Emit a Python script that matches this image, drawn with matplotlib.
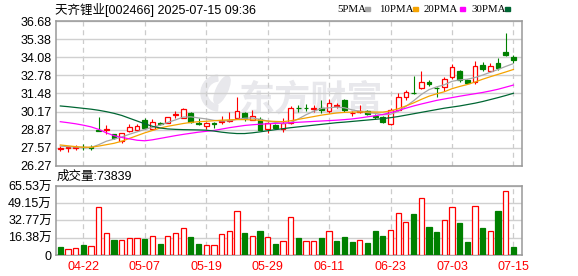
import matplotlib
matplotlib.use('Agg')
import matplotlib.pyplot as plt
from matplotlib.patches import Rectangle, Wedge, Ellipse
from matplotlib.transforms import IdentityTransform
import numpy as np

plt.rcParams['font.family'] = ['Liberation Sans', 'Noto Sans CJK SC', 'DejaVu Sans']

dates = ['04-17', '04-18', '04-21', '04-22', '04-23', '04-24', '04-25', '04-28', '04-29', '04-30',
         '05-06', '05-07', '05-08', '05-09', '05-12', '05-13', '05-14', '05-15', '05-16', '05-19',
         '05-20', '05-21', '05-22', '05-23', '05-26', '05-27', '05-28', '05-29', '05-30', '06-03',
         '06-04', '06-05', '06-06', '06-09', '06-10', '06-11', '06-12', '06-13', '06-16', '06-17',
         '06-18', '06-19', '06-20', '06-23', '06-24', '06-25', '06-26', '06-27', '06-30', '07-01',
         '07-02', '07-03', '07-04', '07-07', '07-08', '07-09', '07-10', '07-11', '07-14', '07-15']

opens = [27.50, 27.55, 27.55, 27.65, 27.62, 28.85, 28.85, 28.57, 28.06, 28.75,
         28.85, 29.55, 28.92, 29.38, 29.38, 29.95, 29.75, 30.05, 29.35, 29.12,
         29.35, 29.45, 29.50, 29.70, 30.10, 29.60, 29.65, 28.90, 29.20, 28.90,
         29.33, 30.45, 30.42, 30.38, 30.45, 30.22, 30.58, 31.00, 30.05, 30.18,
         30.25, 29.85, 29.82, 29.25, 30.30, 31.20, 31.52, 31.85, 32.32, 31.88,
         31.97, 32.68, 33.10, 32.45, 32.28, 33.52, 33.12, 33.70, 34.48, 34.07]
highs = [27.70, 27.70, 27.75, 27.85, 27.78, 29.76, 29.20, 28.60, 28.65, 29.25,
         29.30, 29.70, 29.65, 29.45, 29.80, 30.20, 30.42, 30.17, 29.70, 29.42,
         29.45, 29.88, 30.15, 31.22, 30.12, 30.28, 29.80, 29.42, 29.25, 29.70,
         30.60, 30.65, 30.70, 30.65, 31.00, 31.08, 30.77, 31.05, 30.25, 30.65,
         30.30, 30.00, 29.85, 30.45, 31.50, 31.70, 32.73, 33.11, 32.45, 31.95,
         32.68, 33.57, 33.16, 32.55, 33.83, 33.76, 33.69, 34.00, 35.84, 34.24]
lows = [27.35, 27.25, 27.40, 27.42, 27.42, 28.75, 28.60, 28.20, 27.95, 28.70,
        28.80, 28.95, 28.85, 29.20, 29.35, 29.70, 29.72, 29.38, 29.20, 28.90,
        29.02, 29.25, 29.40, 29.65, 29.50, 29.55, 28.85, 28.65, 28.95, 28.72,
        29.30, 30.17, 30.20, 30.17, 30.05, 30.10, 30.41, 30.15, 29.87, 30.05,
        29.90, 29.62, 29.35, 29.20, 30.25, 31.00, 31.45, 31.80, 32.00, 31.20,
        31.68, 32.50, 32.28, 32.16, 32.16, 33.10, 33.00, 33.15, 34.15, 33.70]
closes = [27.55, 27.60, 27.65, 27.60, 27.58, 28.80, 28.95, 28.27, 28.62, 29.05,
          29.15, 29.00, 29.43, 29.28, 29.76, 30.00, 30.33, 29.45, 29.32, 29.38,
          29.32, 29.52, 29.60, 30.22, 29.70, 29.88, 28.88, 29.38, 29.00, 29.33,
          30.45, 30.40, 30.40, 30.43, 30.30, 30.77, 30.62, 30.30, 30.10, 30.24,
          30.00, 29.80, 29.40, 30.28, 31.25, 31.60, 31.48, 32.28, 32.13, 31.85,
          32.49, 33.35, 32.45, 32.25, 33.45, 33.25, 33.45, 33.33, 34.24, 33.85]

# moving averages (history before 04-17 is not shown)
ma5 = [27.70, 27.66, 27.63, 27.60, 27.60, 27.80, 28.05, 28.20, 28.35, 28.55,
       28.72, 28.90, 29.05, 29.20, 29.40, 29.58, 29.78, 29.80, 29.72, 29.65,
       29.55, 29.50, 29.52, 29.62, 29.70, 29.72, 29.62, 29.50, 29.40, 29.30,
       29.40, 29.65, 29.95, 30.20, 30.40, 30.45, 30.50, 30.45, 30.30, 30.20,
       30.10, 30.05, 29.95, 29.98, 30.20, 30.55, 30.95, 31.40, 31.75, 31.95,
       32.10, 32.35, 32.45, 32.50, 32.62, 32.80, 33.00, 33.20, 33.42, 33.62]
ma10 = [27.78, 27.72, 27.66, 27.62, 27.62, 27.70, 27.80, 27.90, 28.05, 28.25,
        28.45, 28.65, 28.82, 29.00, 29.12, 29.22, 29.32, 29.40, 29.45, 29.48,
        29.52, 29.56, 29.58, 29.60, 29.60, 29.58, 29.55, 29.50, 29.47, 29.45,
        29.52, 29.62, 29.72, 29.82, 29.92, 30.00, 30.08, 30.12, 30.14, 30.15,
        30.15, 30.14, 30.14, 30.22, 30.38, 30.58, 30.80, 31.05, 31.28, 31.45,
        31.60, 31.82, 31.98, 32.12, 32.30, 32.50, 32.68, 32.85, 33.02, 33.20]
ma20 = [29.45, 29.38, 29.30, 29.20, 29.08, 28.90, 28.65, 28.45, 28.32, 28.22,
        28.12, 28.08, 28.15, 28.25, 28.35, 28.45, 28.54, 28.62, 28.70, 28.76,
        28.82, 28.92, 29.02, 29.10, 29.18, 29.23, 29.27, 29.30, 29.33, 29.35,
        29.38, 29.41, 29.44, 29.47, 29.50, 29.53, 29.56, 29.60, 29.65, 29.72,
        29.80, 29.88, 29.97, 30.10, 30.25, 30.42, 30.58, 30.72, 30.85, 30.98,
        31.08, 31.18, 31.28, 31.37, 31.46, 31.55, 31.66, 31.78, 31.93, 32.08]
ma30 = [30.58, 30.53, 30.47, 30.41, 30.35, 30.27, 30.17, 30.05, 29.90, 29.70,
        29.50, 29.30, 29.12, 29.00, 28.93, 28.90, 28.88, 28.87, 28.86, 28.84,
        28.78, 28.70, 28.64, 28.60, 28.60, 28.65, 28.72, 28.80, 28.88, 28.95,
        29.02, 29.08, 29.14, 29.20, 29.26, 29.32, 29.38, 29.42, 29.47, 29.52,
        29.57, 29.62, 29.67, 29.74, 29.82, 29.92, 30.02, 30.12, 30.22, 30.32,
        30.42, 30.50, 30.58, 30.68, 30.78, 30.90, 31.04, 31.18, 31.33, 31.49]

# volume in 万 shares, and whether the bar is drawn red
volumes = [7.3, 6.0, 7.0, 9.2, 8.9, 45.3, 20.6, 14.3, 14.0, 16.5,
           16.5, 15.2, 17.7, 10.4, 17.7, 20.6, 25.3, 17.1, 10.4, 9.2,
           9.2, 19.6, 22.5, 41.5, 20.9, 17.7, 22.8, 17.1, 10.4, 12.9,
           35.8, 15.8, 13.6, 13.0, 15.8, 23.1, 13.0, 16.8, 12.0, 14.6,
           11.1, 22.8, 18.0, 24.1, 39.6, 31.0, 39.3, 53.8, 26.6, 21.8,
           32.9, 45.3, 30.4, 12.0, 46.2, 25.6, 22.5, 41.8, 60.5, 7.38]
vol_up = [0, 1, 1, 0, 1, 1, 1, 0, 1, 1,
          1, 0, 1, 0, 1, 1, 1, 0, 0, 1,
          1, 1, 1, 1, 0, 1, 0, 1, 0, 1,
          1, 0, 1, 1, 0, 1, 0, 0, 0, 1,
          0, 0, 0, 1, 1, 1, 0, 1, 0, 0,
          1, 1, 0, 0, 1, 0, 1, 0, 1, 0]

price_ticks = [26.27, 27.57, 28.87, 30.17, 31.48, 32.78, 34.08, 35.38, 36.68]
vol_ticks = [0, 16.38, 32.77, 49.15, 65.53]
date_ticks = ['04-22', '05-07', '05-19', '05-29', '06-11', '06-23', '07-03', '07-15']

ma_names = ['5PMA', '10PMA', '20PMA', '30PMA']
ma_colors = ['#a6a6a6', '#f5a300', '#ff00ff', '#006633']

RED = '#ff0000'
GREEN = '#008000'
WM = '#e8e8ec'
W, H = 578, 276

fig = plt.figure(figsize=(W / 100, H / 100), dpi=100)
ax = fig.add_axes([56 / W, 1 - 166 / H, 466 / W, 145 / H])
axv = fig.add_axes([56 / W, 1 - 255 / H, 466 / W, 69 / H], sharex=ax)

x = np.arange(len(dates))
o = np.array(opens)
c = np.array(closes)
hi = np.array(highs)
lo = np.array(lows)
up = c >= o
cols = np.where(up, RED, GREEN)
top = np.maximum(o, c)
bot = np.minimum(o, c)

# candles
ax.vlines(x, top, hi, colors=cols, lw=0.8, zorder=2)
ax.vlines(x, lo, bot, colors=cols, lw=0.8, zorder=2)
ax.bar(x, top - bot, bottom=bot, width=0.62, color=np.where(up, 'white', GREEN),
       edgecolor=cols, lw=0.9, zorder=3)

for vals, col in zip([ma5, ma10, ma20, ma30], ma_colors):
    ax.plot(x, vals, color=col, lw=0.9, zorder=4)

# watermark: logo + name, in pixel coords
px = IdentityTransform()
ax.add_artist(Wedge((219, H - 93), 18, 95, 265, width=6, color=WM, transform=px, zorder=0.5))
ax.add_artist(Ellipse((222, H - 90), 11, 30, angle=-25, color=WM, transform=px, zorder=0.5))
ax.text(311 / W, 1 - 100 / H, '东方财富', transform=fig.transFigure, fontsize=26,
        fontweight='bold', color=WM, ha='center', va='center',
        family='Noto Sans CJK SC', zorder=0.5)

# volume
vu = np.array(vol_up, dtype=bool)
axv.bar(x, volumes, width=0.68, color=np.where(vu, 'white', GREEN),
        edgecolor=np.where(vu, RED, GREEN), lw=0.9, zorder=3)

ax.set_xlim(-0.56, 60.12)
ax.set_ylim(price_ticks[0], price_ticks[-1])
axv.set_ylim(vol_ticks[0], vol_ticks[-1])

ax.set_yticks(price_ticks)
ax.set_yticklabels([f'{v:.2f}' for v in price_ticks])
axv.set_yticks(vol_ticks)
axv.set_yticklabels(['0'] + [f'{v:.2f}万' for v in vol_ticks[1:]])
axv.set_xticks([dates.index(d) for d in date_ticks])
axv.set_xticklabels(date_ticks, color=RED, fontsize=8.5)

for a in (ax, axv):
    a.set_axisbelow(True)
    a.grid(axis='y', color='#d0d0d0', lw=1.0, ls='-')
    a.grid(axis='x', color='#cccccc', lw=0.9, ls=(0, (4, 3)))
    a.tick_params(axis='both', length=0, labelsize=9, pad=3)
    for s in a.spines.values():
        s.set_color('#999999')
        s.set_linewidth(1.1)
ax.tick_params(axis='x', labelbottom=False)
axv.tick_params(axis='x', pad=4)

# header texts
fig.text(55 / W, 1 - 10 / H, '天齐锂业[002466] 2025-07-15 09:36', fontsize=9,
         ha='left', va='center')
fig.text(57 / W, 1 - 177 / H, '成交量:73839', fontsize=9, ha='left', va='center')

leg_x = [337, 379, 424, 471]
box_x = [365, 413, 460, 505]
for name, col, tx, bx in zip(ma_names, ma_colors, leg_x, box_x):
    fig.text(tx / W, 1 - 9 / H, name, fontsize=7.8, family='Liberation Serif',
             ha='left', va='center')
    fig.add_artist(Rectangle((bx / W, 1 - 11 / H), 5 / W, 4 / H, color=col,
                             transform=fig.transFigure))

fig.savefig('out.png', dpi=100, facecolor='white')
